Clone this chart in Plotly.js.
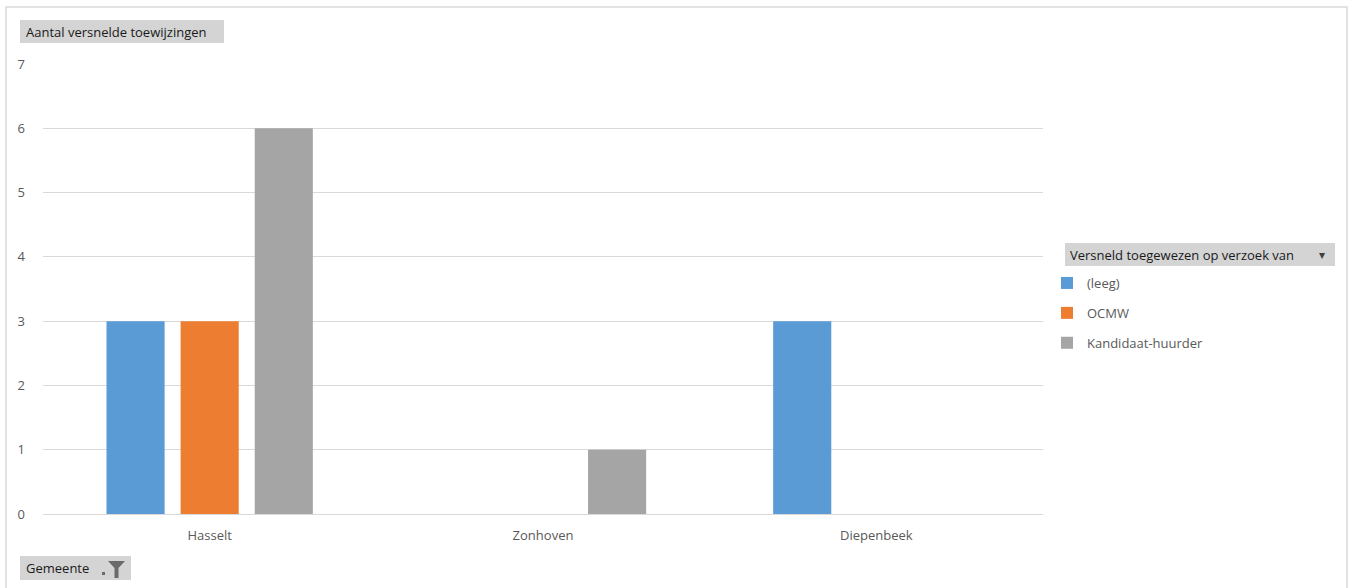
<!DOCTYPE html>
<html>
<head>
<meta charset="utf-8">
<script src="https://cdn.plot.ly/plotly-3.0.1.min.js"></script>
<style>html,body{margin:0;padding:0;background:#fff;}#chart{width:1354px;height:588px;}</style>
</head>
<body>
<div id="chart"></div>
<script>
var categories = ['Hasselt', 'Zonhoven', 'Diepenbeek'];
var seriesNames = ['(leeg)', 'OCMW', 'Kandidaat-huurder'];
var leegValues = [3, null, 3];
var ocmwValues = [3, null, null];
var kandidaatValues = [6, 1, null];
var yTicks = [0, 1, 2, 3, 4, 5, 6, 7];

var colors = ['#5B9BD5', '#ED7D31', '#A5A5A5'];
var seriesValues = [leegValues, ocmwValues, kandidaatValues];

var FONT = 'Open Sans, Noto Sans, sans-serif';

var traces = seriesValues.map(function (vals, i) {
  return {
    type: 'bar',
    x: categories,
    y: vals,
    name: seriesNames[i],
    legendgroup: 'g' + i,
    marker: {color: colors[i], line: {width: 0}},
    hoverinfo: 'x+y+name'
  };
});

// pixel -> paper helpers (plot area: x 43..1043, y 64..514)
function px(x) { return (x - 43) / 1000; }
function py(y) { return (514 - y) / 450; }

function box(x0, y0, x1, y1) {
  return {type: 'rect', xref: 'paper', yref: 'paper',
    x0: px(x0), x1: px(x1), y0: py(y1), y1: py(y0),
    fillcolor: '#d4d4d4', line: {width: 0}, layer: 'below'};
}

var layout = {
  width: 1354,
  height: 588,
  margin: {l: 43, r: 311, t: 64, b: 74},
  paper_bgcolor: '#ffffff',
  plot_bgcolor: 'rgba(0,0,0,0)',
  font: {family: FONT, size: 13, color: '#595959'},
  barmode: 'group',
  bargap: 0.333,
  bargroupgap: 0.216,
  showlegend: true,
  legend: {
    x: px(1047), y: py(268), xanchor: 'left', yanchor: 'top',
    traceorder: 'grouped',
    tracegroupgap: 10,
    itemwidth: 30,
    font: {family: FONT, size: 13, color: '#595959'},
    bgcolor: 'rgba(0,0,0,0)'
  },
  xaxis: {
    type: 'category',
    showgrid: false,
    showline: false,
    zeroline: false,
    ticks: '',
    ticklabelstandoff: 12,
    tickfont: {family: FONT, size: 13, color: '#595959'},
    fixedrange: true
  },
  yaxis: {
    range: [0, 7],
    tickvals: yTicks,
    ticktext: yTicks.map(String),
    showgrid: true,
    gridcolor: '#d9d9d9',
    gridwidth: 1,
    zeroline: true,
    zerolinecolor: '#d9d9d9',
    zerolinewidth: 1,
    showline: false,
    ticks: '',
    ticklabelstandoff: 17,
    tickfont: {family: FONT, size: 13, color: '#595959'},
    fixedrange: true
  },
  shapes: [
    {type: 'rect', xref: 'paper', yref: 'paper',
     x0: px(6), x1: px(1347), y0: py(600), y1: py(7),
     line: {color: '#d9d9d9', width: 1.5}, fillcolor: 'rgba(0,0,0,0)', layer: 'below'},
    box(20, 20, 224, 43),
    box(1065, 243, 1335, 266),
    box(20, 556, 131, 580),
    // funnel icon in "Gemeente" field button
    {type: 'path', xref: 'paper', yref: 'paper', layer: 'above',
     path: 'M ' + px(108) + ' ' + py(561) + ' L ' + px(125) + ' ' + py(561) +
           ' L ' + px(118.5) + ' ' + py(568) + ' L ' + px(118.5) + ' ' + py(578) +
           ' L ' + px(114.5) + ' ' + py(578) + ' L ' + px(114.5) + ' ' + py(568) + ' Z',
     fillcolor: '#6b6b6b', line: {width: 0}},
    {type: 'rect', xref: 'paper', yref: 'paper', layer: 'above',
     x0: px(102), x1: px(105), y0: py(575), y1: py(572),
     fillcolor: '#6b6b6b', line: {width: 0}}
  ],
  annotations: [
    {text: 'Aantal versnelde toewijzingen', xref: 'paper', yref: 'paper',
     x: px(24), y: py(31.5), xanchor: 'left', yanchor: 'middle',
     showarrow: false, align: 'left',
     font: {family: FONT, size: 13, color: '#1a1a1a'}},
    {text: 'Versneld toegewezen op verzoek van', xref: 'paper', yref: 'paper',
     x: px(1068), y: py(254.5), xanchor: 'left', yanchor: 'middle',
     showarrow: false, align: 'left',
     font: {family: FONT, size: 13, color: '#1a1a1a'}},
    {text: '▾', xref: 'paper', yref: 'paper',
     x: px(1322), y: py(255), xanchor: 'center', yanchor: 'middle',
     showarrow: false, font: {family: 'DejaVu Sans', size: 12, color: '#404040'}},
    {text: 'Gemeente', xref: 'paper', yref: 'paper',
     x: px(24), y: py(568), xanchor: 'left', yanchor: 'middle',
     showarrow: false, align: 'left',
     font: {family: FONT, size: 13, color: '#1a1a1a'}}
  ]
};

Plotly.newPlot('chart', traces, layout, {displayModeBar: false, staticPlot: true});
</script>
</body>
</html>
